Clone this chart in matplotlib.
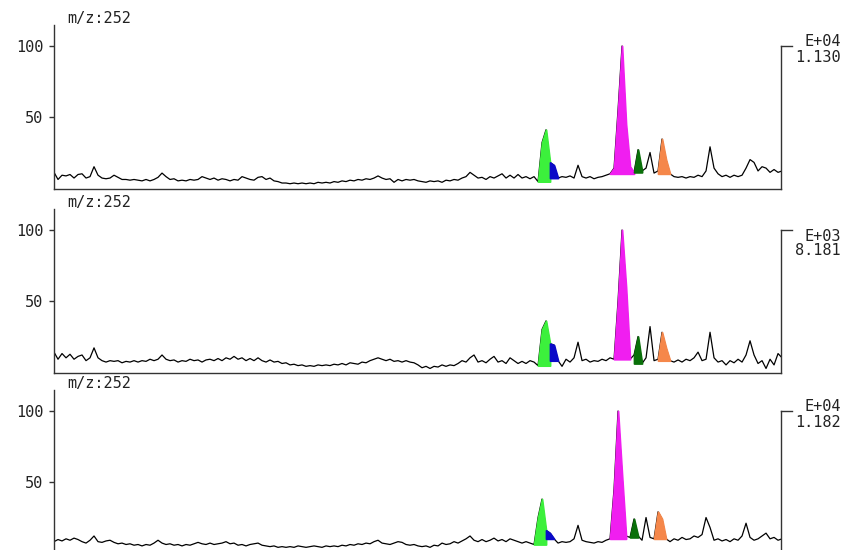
import numpy as np
import matplotlib.pyplot as plt
from matplotlib import transforms

# chromatogram traces, m/z 252, one value every 4 scan units
tic1 = [11, 6, 9, 8.5, 9.5, 7, 9.5, 10, 7, 8,
        15, 9, 7, 6.5, 7, 9, 7.5, 6, 6, 5.5,
        6, 5.5, 5, 6, 5, 6, 7.5, 10.5, 8, 6,
        6.5, 5, 5.5, 5, 6, 5.5, 6, 8, 7, 6,
        7, 5.5, 6.5, 6, 5, 6, 5.5, 8, 7, 6,
        5.5, 7.5, 8, 6, 7, 5, 4.5, 3.5, 3.5, 3,
        3.5, 3, 3.5, 3, 3.5, 3, 4, 3.5, 4, 3.5,
        4.5, 4, 5, 4.5, 5.5, 5, 6, 5.5, 6.5, 6,
        7, 8.5, 7, 6, 6.5, 4, 6, 5, 6, 5.5,
        6, 5, 4.5, 4, 5, 4.5, 5, 4, 5.5, 5,
        6, 5.5, 7, 8, 11, 9, 7, 7.5, 6, 8,
        7, 8.5, 10, 7, 9, 7, 9.5, 7, 8, 6.5,
        8, 4.5, 32, 41, 18, 16, 7, 8, 7.5, 8.5,
        7, 16, 8, 7, 8, 6.5, 7.5, 8, 9, 10,
        14, 55, 100, 45, 15, 11, 27, 12, 14, 25,
        10.5, 12, 34.5, 20, 10, 8, 7.5, 8, 7, 8,
        7.5, 9, 8, 12, 29, 14, 10, 8, 9, 7.5,
        9, 8, 9, 14, 20, 18, 12, 15, 14, 11,
        13, 11, 12]

tic2 = [14, 9, 13, 10, 12.5, 9, 11, 12, 8, 10,
        17, 10, 8, 7, 8, 7.5, 8, 6.5, 7.5, 7,
        8, 7, 8, 7.5, 9, 8, 9, 12, 9, 8,
        8.5, 7, 8, 7.5, 9, 8, 8.5, 7, 8.5, 9,
        8, 9.5, 8, 10, 9, 11, 9, 10, 8, 9.5,
        8, 10, 8, 7, 8.5, 7, 7.5, 6, 6.5, 5,
        5.5, 4.5, 5, 4, 4.5, 4, 5, 4.5, 5, 4.5,
        5.5, 5, 6, 5, 6.5, 6, 5.5, 7, 6.5, 8,
        9, 10, 9, 8, 9, 7.5, 8, 7, 8, 7,
        6.5, 5, 3, 4, 2.5, 4, 3.5, 5, 4, 5,
        4.5, 6, 8, 7, 10, 12, 7, 8, 6.5, 9,
        11, 7, 8, 6, 10, 8, 6, 7.5, 6, 8,
        7, 4.5, 30, 36, 20, 19, 8, 4, 9, 7,
        10, 21, 8, 9, 7, 8, 7.5, 9, 8, 10,
        9, 50, 100, 60, 9, 12, 25, 6, 10, 32,
        8, 9, 28, 17, 8, 7, 8.5, 7, 9, 8,
        10, 14, 8, 9, 28, 10, 7, 8, 5, 8,
        6.5, 9, 7, 12, 22, 12, 6, 8, 2.5, 9,
        5, 13, 10]

tic3 = [8, 9.5, 8.5, 10, 9, 10.5, 9.5, 8, 7, 9,
        12, 8, 7.5, 8.5, 9, 7.5, 6.5, 7, 6, 6.5,
        5.5, 6, 5, 6, 5.5, 7, 9, 7, 6, 6.5,
        5.5, 6, 5, 6, 5.5, 6.5, 7.5, 6.5, 6, 7,
        6, 6.5, 7, 8, 6.5, 7, 5.5, 6, 5, 6,
        6.5, 7, 5.5, 5, 4.5, 5, 4, 4.5, 4, 4.5,
        4, 5, 4.5, 4, 4.5, 5, 4.5, 4, 5, 4.5,
        5, 4.5, 5.5, 5, 6, 5.5, 6.5, 6, 7, 6.5,
        8, 9, 7, 6.5, 6, 7, 8, 7.5, 6, 5.5,
        6, 5, 4.5, 5, 4, 5.5, 5, 7, 6, 6.5,
        8, 7, 8.5, 10, 12, 9, 8, 9.5, 8, 9,
        10.5, 8.5, 9.5, 8, 10, 9, 8, 7, 8, 7,
        6, 25, 38, 16, 14, 10, 7, 8, 7.5, 8,
        10, 19.5, 9, 8, 7.5, 7, 8, 7.5, 9, 10,
        45, 100, 55, 12, 11, 24, 12, 9, 25, 11,
        10, 29, 24, 10, 8, 10, 9, 11, 9.5, 10,
        12, 11, 13, 25, 18, 9, 10, 8.5, 9.5, 8,
        10, 9, 12, 21, 11, 9, 10, 12, 14, 10,
        11, 9, 10]

# integrated peak windows (scan units) and colours
peak_colors = ['#3cf03c', '#0a0ac8', '#f01ef0', '#0a700a', '#f5874a']
win1 = [(484, 496), (496, 504), (556, 580), (580, 588), (604, 616)]
win2 = [(484, 496), (496, 504), (560, 576), (580, 588), (604, 616)]
win3 = [(480, 492), (492, 500), (556, 572), (576, 584), (600, 612)]

scale_exp = ['E+04', 'E+03', 'E+04']
scale_val = ['1.130', '8.181', '1.182']
label = 'm/z:252'

traces = [tic1, tic2, tic3]
windows = [win1, win2, win3]
x = np.arange(len(tic1)) * 4.0

mono = ['DejaVu Sans Mono']
fs = 11
fig = plt.figure(figsize=(8.44, 5.5), dpi=100)
bottoms = [0.6564, 0.3218, -0.0073]

for i in range(3):
    ax = fig.add_axes([0.064, bottoms[i], 0.8614, 0.2982])
    y = np.array(traces[i], dtype=float)
    ax.plot(x, y, color='black', lw=0.9, zorder=2)
    for (lo, hi), c in zip(windows[i], peak_colors):
        m = (x >= lo) & (x <= hi)
        xs, ys = x[m], y[m]
        ax.fill_between(xs, ys.min(), ys, color=c, ec=c, lw=1.3, zorder=3)
    ax.set_xlim(0, 727)
    ax.set_ylim(-0.7, 114.8)
    ax.set_xticks([])
    ax.set_yticks([50, 100])
    ax.set_yticklabels(['50', '100'], family=mono, fontsize=fs, color='#222222')
    ax.tick_params(axis='y', length=3.6, width=1, pad=4, color='#333333')
    for s in ['left', 'bottom', 'right']:
        ax.spines[s].set_color('#333333')
        ax.spines[s].set_linewidth(1.0)
    ax.spines['top'].set_visible(False)
    ax.spines['right'].set_bounds(-0.7, 100)
    tr = transforms.blended_transform_factory(ax.transAxes, ax.transData)
    ax.plot([1, 1.015], [100, 100], color='#333333', lw=1.0, transform=tr, clip_on=False)
    ax.text(0.018, 1.037, label, transform=ax.transAxes, va='center', ha='left',
            family=mono, fontsize=fs, color='#222222')
    dy = [(3, -8), (-4.5, -15), (3, -8)][i]
    ax.annotate(scale_exp[i], xy=(1, 100), xycoords=tr, xytext=(43, dy[0]),
                textcoords='offset points', ha='right', va='center',
                family=mono, fontsize=fs, color='#222222')
    ax.annotate(scale_val[i], xy=(1, 100), xycoords=tr, xytext=(43, dy[1]),
                textcoords='offset points', ha='right', va='center',
                family=mono, fontsize=fs, color='#222222')

plt.savefig('out.png', dpi=100)
